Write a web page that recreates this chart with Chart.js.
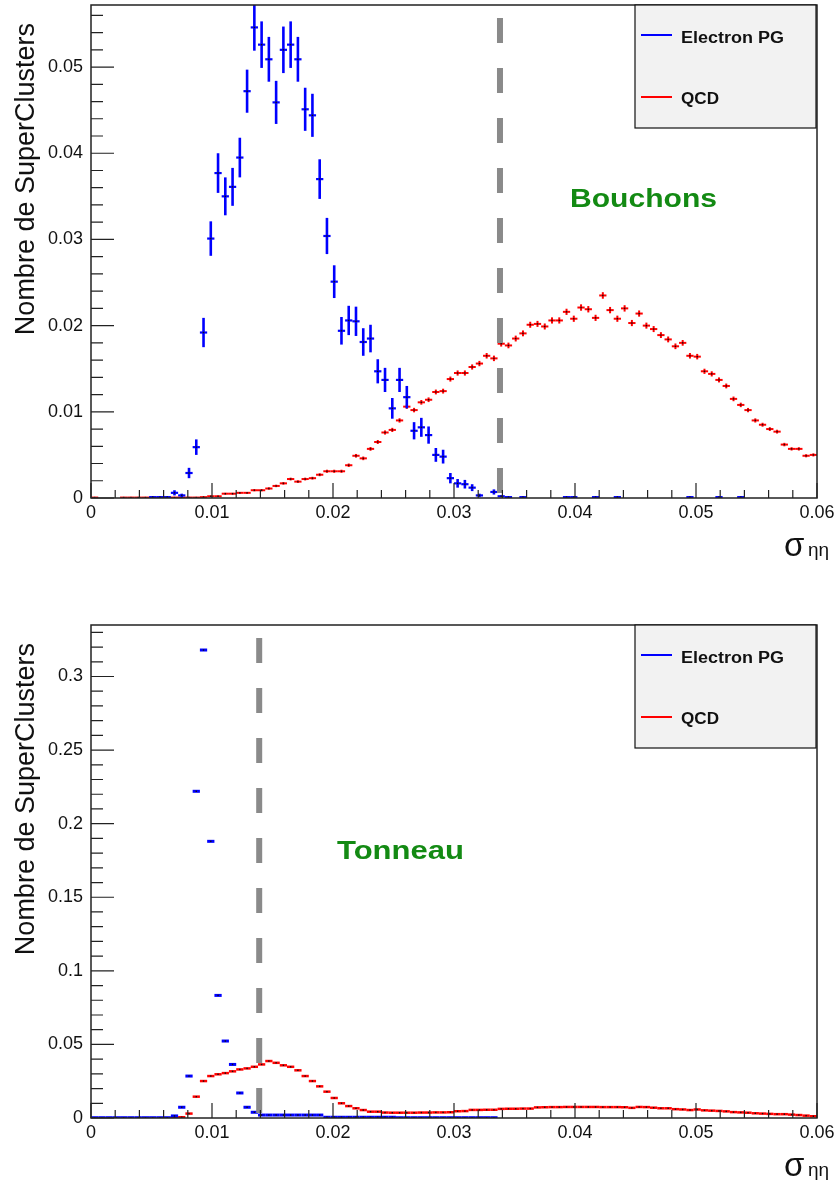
<!DOCTYPE html>
<html>
<head>
<meta charset="utf-8">
<script src="https://cdn.jsdelivr.net/npm/chart.js@4.4.1/dist/chart.umd.min.js"></script>
<style>
  html, body { margin: 0; padding: 0; background: #fff; }
  .panel { width: 838px; height: 593px; }
</style>
</head>
<body>
<div class="panel"><canvas id="bouchons" width="838" height="593"></canvas></div>
<div class="panel"><canvas id="tonneau" width="838" height="593"></canvas></div>
<script>
// sigma_ietaieta histograms, 100 bins from 0 to 0.06
const BIN_WIDTH = 0.0006
const binCenters = Array.from({ length: 100 }, (_, i) => +(BIN_WIDTH * (i + 0.5)).toFixed(5))

const seriesLabels = ['Electron PG', 'QCD']
const panelLabels = ['Bouchons', 'Tonneau']
const cutValues = [0.0338, 0.0139]

const xTickValues = [0, 0.01, 0.02, 0.03, 0.04, 0.05, 0.06]
const yTicksBouchons = [0, 0.01, 0.02, 0.03, 0.04, 0.05]
const yTicksTonneau = [0, 0.05, 0.1, 0.15, 0.2, 0.25, 0.3]

// endcap (Bouchons)
const bouchonsElectron = [
  null, null, null, null, null, null, null, null, 0.0001, 0.0001,
  0.0001, 0.0006, 0.0003, 0.0029, 0.0059, 0.0192, 0.0301, 0.0377, 0.0350, 0.0361,
  0.0395, 0.0472, 0.0546, 0.0526, 0.0509, 0.0459, 0.0520, 0.0526, 0.0509, 0.0451,
  0.0444, 0.0370, 0.0304, 0.0251, 0.0194, 0.0206, 0.0205, 0.0181, 0.0185, 0.0147,
  0.0137, 0.0104, 0.0137, 0.0117, 0.0078, 0.0082, 0.0073, 0.0050, 0.0048, 0.0023,
  0.0017, 0.0016, 0.0012, 0.0003, null, 0.0007, 0.0002, 0.0001, null, 0.0001,
  null, null, null, null, null, 0.0001, 0.0001, null, null, 0.0001,
  null, null, 0.0001, null, null, null, null, null, null, null,
  null, null, 0.0001, null, null, null, 0.0001, null, null, 0.0001,
  null, null, null, null, null, null, null, null, null, null
]
const bouchonsElectronErr = [
  0, 0, 0, 0, 0, 0, 0, 0, 0.0001, 0.0001,
  0.0001, 0.0003, 0.0002, 0.0006, 0.0009, 0.0017, 0.0020, 0.0023, 0.0022, 0.0022,
  0.0023, 0.0025, 0.0027, 0.0027, 0.0026, 0.0025, 0.0027, 0.0027, 0.0026, 0.0025,
  0.0025, 0.0023, 0.0021, 0.0019, 0.0016, 0.0017, 0.0017, 0.0016, 0.0016, 0.0014,
  0.0014, 0.0012, 0.0014, 0.0013, 0.0010, 0.0011, 0.0010, 0.0008, 0.0008, 0.0006,
  0.0005, 0.0005, 0.0004, 0.0002, 0, 0.0003, 0.0001, 0.0001, 0, 0.0001,
  0, 0, 0, 0, 0, 0.0001, 0.0001, 0, 0, 0.0001,
  0, 0, 0.0001, 0, 0, 0, 0, 0, 0, 0,
  0, 0, 0.0001, 0, 0, 0, 0.0001, 0, 0, 0.0001,
  0, 0, 0, 0, 0, 0, 0, 0, 0, 0
]
const bouchonsQcd = [
  0.00005, null, null, null, 0.00005, 0.00005, 0.00005, 0.00005, 0.00005, 0.00005,
  0.00005, 0.00005, 0.00005, 0.00005, 0.00005, 0.0001, 0.0002, 0.0002, 0.0005, 0.0005,
  0.0006, 0.0006, 0.0009, 0.0009, 0.0011, 0.0014, 0.0017, 0.0022, 0.0019, 0.0022,
  0.0023, 0.0027, 0.0031, 0.0031, 0.0031, 0.0038, 0.0049, 0.0046, 0.0057, 0.0065,
  0.0076, 0.0079, 0.0090, 0.0106, 0.0102, 0.0111, 0.0114, 0.0123, 0.0124, 0.0138,
  0.0145, 0.0145, 0.0152, 0.0156, 0.0165, 0.0162, 0.0179, 0.0177, 0.0185, 0.0191,
  0.0201, 0.0202, 0.0199, 0.0206, 0.0206, 0.0216, 0.0208, 0.0221, 0.0219, 0.0209,
  0.0235, 0.0218, 0.0208, 0.0220, 0.0203, 0.0214, 0.0200, 0.0196, 0.0189, 0.0184,
  0.0176, 0.0180, 0.0165, 0.0164, 0.0147, 0.0144, 0.0137, 0.0130, 0.0115, 0.0108,
  0.0102, 0.0090, 0.0085, 0.0080, 0.0077, 0.0062, 0.0057, 0.0057, 0.0049, 0.0050
]
const bouchonsQcdErr = [
  0, 0, 0, 0, 0, 0, 0, 0, 0, 0,
  0, 0, 0, 0, 0, 0.00006, 0.00006, 0.00006, 0.0001, 0.0001,
  0.0001, 0.0001, 0.00012, 0.00012, 0.00013, 0.00014, 0.00015, 0.00016, 0.00015, 0.00016,
  0.00016, 0.00017, 0.00018, 0.00018, 0.00018, 0.0002, 0.00021, 0.00021, 0.00022, 0.00023,
  0.00024, 0.00024, 0.00025, 0.00026, 0.00026, 0.00027, 0.00027, 0.00028, 0.00028, 0.00029,
  0.0003, 0.0003, 0.0003, 0.00031, 0.00032, 0.00032, 0.00033, 0.00033, 0.00034, 0.00034,
  0.00035, 0.00035, 0.00035, 0.00036, 0.00036, 0.00036, 0.00036, 0.00037, 0.00037, 0.00036,
  0.00038, 0.00037, 0.00036, 0.00037, 0.00036, 0.00036, 0.00035, 0.00035, 0.00034, 0.00034,
  0.00033, 0.00033, 0.00032, 0.00032, 0.0003, 0.0003, 0.00029, 0.00028, 0.00027, 0.00026,
  0.00025, 0.00024, 0.00023, 0.00022, 0.00022, 0.0002, 0.00019, 0.00019, 0.00018, 0.00018
]

// barrel (Tonneau)
const tonneauElectron = [
  0.0002, 0.0002, 0.0002, 0.0002, 0.0002, 0.0002, 0.0002, 0.0002, 0.0002, 0.0002,
  0.0002, 0.0014, 0.0073, 0.0285, 0.222, 0.318, 0.188, 0.0833, 0.0523, 0.0364,
  0.0170, 0.0073, 0.0039, 0.0020, 0.0020, 0.0020, 0.0020, 0.0020, 0.0020, 0.0020,
  0.0020, 0.0020, 0.0005, 0.0005, 0.0005, 0.0005, 0.0005, 0.0005, 0.0005, 0.0005,
  0.0005, 0.0005, 0.0002, 0.0002, 0.0002, 0.0002, 0.0002, 0.0002, 0.0002, 0.0002,
  0.0002, 0.0002, 0.0002, 0.0002, 0.0002, 0.0002, null, null, null, null,
  null, null, null, null, null, null, null, null, null, null,
  null, null, null, null, null, null, null, null, null, null,
  null, null, null, null, null, null, null, null, null, null,
  null, null, null, null, null, null, null, null, null, null
]
const tonneauQcd = [
  null, null, null, null, null, null, null, null, null, null,
  null, 0.0005, 0.0005, 0.0030, 0.0145, 0.0251, 0.0285, 0.0297, 0.0305, 0.0317,
  0.0330, 0.0337, 0.0348, 0.0364, 0.0387, 0.0375, 0.0358, 0.0348, 0.0324, 0.0285,
  0.0251, 0.0215, 0.0179, 0.0136, 0.0100, 0.0081, 0.0066, 0.0054, 0.0043, 0.0043,
  0.0037, 0.0036, 0.0036, 0.0036, 0.0036, 0.0037, 0.0037, 0.0038, 0.0038, 0.0039,
  0.0046, 0.0047, 0.0055, 0.0055, 0.0056, 0.0056, 0.0062, 0.0063, 0.0063, 0.0064,
  0.0064, 0.0072, 0.0073, 0.0074, 0.0074, 0.0075, 0.0075, 0.0075, 0.0075, 0.0075,
  0.0074, 0.0074, 0.0074, 0.0073, 0.0069, 0.0075, 0.0074, 0.0070, 0.0066, 0.0066,
  0.0060, 0.0058, 0.0054, 0.0058, 0.0052, 0.0050, 0.0048, 0.0045, 0.0040, 0.0038,
  0.0036, 0.0032, 0.0030, 0.0028, 0.0026, 0.0026, 0.0023, 0.0020, 0.0016, 0.0012
]

const FONT = "'Liberation Sans', Arial, Helvetica, sans-serif"
const BLUE = '#0000ff'
const RED = '#ff0000'

function toPoints(values) {
  return values.map((v, i) => ({ x: binCenters[i], y: v }))
}

// draws each bin as a horizontal segment of bin width plus a vertical error bar
const histMarks = {
  id: 'histMarks',
  afterDatasetsDraw(chart) {
    const { ctx, chartArea: a, scales: { x, y } } = chart
    ctx.save()
    ctx.beginPath()
    ctx.rect(a.left, a.top, a.right - a.left, a.bottom - a.top)
    ctx.clip()
    chart.data.datasets.forEach((ds, di) => {
      const meta = chart.getDatasetMeta(di)
      meta.data.forEach((pt, i) => {
        const d = ds.data[i]
        if (d.y == null) return
        const xl = x.getPixelForValue(d.x - BIN_WIDTH / 2)
        const xr = x.getPixelForValue(d.x + BIN_WIDTH / 2)
        ctx.strokeStyle = ds.borderColor
        ctx.lineWidth = ds.segWidth
        ctx.beginPath()
        ctx.moveTo(xl, pt.y)
        ctx.lineTo(xr, pt.y)
        ctx.stroke()
        const e = ds.errors ? ds.errors[i] : 0
        if (e) {
          ctx.lineWidth = ds.errWidth
          ctx.beginPath()
          ctx.moveTo(pt.x, y.getPixelForValue(d.y - e))
          ctx.lineTo(pt.x, y.getPixelForValue(d.y + e))
          ctx.stroke()
        }
        ctx.fillStyle = '#111'
        ctx.fillRect(pt.x - 0.7, pt.y - 0.7, 1.4, 1.4)
      })
    })
    ctx.restore()
  }
}

function stretchText(ctx, text, x, y, font, color, width) {
  ctx.save()
  ctx.font = font
  ctx.fillStyle = color
  ctx.textBaseline = 'alphabetic'
  ctx.textAlign = 'left'
  const w = ctx.measureText(text).width
  ctx.translate(x, y)
  if (width) ctx.scale(width / w, 1)
  ctx.fillText(text, 0, 0)
  ctx.restore()
}

function decor(p) {
  return {
    id: 'decor',
    afterDraw(chart) {
      const { ctx, chartArea: a, scales: { x, y } } = chart
      ctx.save()

      // cut line
      const cx = x.getPixelForValue(p.cut)
      ctx.strokeStyle = '#8a8a8a'
      ctx.lineWidth = 6
      ctx.setLineDash([25, 25])
      ctx.beginPath()
      ctx.moveTo(cx, a.top + 13)
      ctx.lineTo(cx, a.bottom)
      ctx.stroke()
      ctx.setLineDash([])

      // frame
      ctx.strokeStyle = '#222'
      ctx.lineWidth = 1.5
      ctx.strokeRect(a.left, a.top, a.right - a.left, a.bottom - a.top)

      // ticks, pointing inwards
      ctx.lineWidth = 1.2
      ctx.beginPath()
      for (let k = 0; k <= 30; k++) {
        const px = x.getPixelForValue(k * 0.002)
        const len = k % 5 === 0 ? 15 : 8
        ctx.moveTo(px, a.bottom)
        ctx.lineTo(px, a.bottom - len)
      }
      for (let k = 0; k * p.yMinor <= y.max; k++) {
        const py = y.getPixelForValue(k * p.yMinor)
        const len = k % 5 === 0 ? 23 : 12
        ctx.moveTo(a.left, py)
        ctx.lineTo(a.left + len, py)
      }
      ctx.stroke()

      // legend box
      const lx = a.left + 544, ly = a.top
      ctx.fillStyle = '#f2f2f2'
      ctx.fillRect(lx, ly, 181, 123)
      ctx.strokeStyle = '#111'
      ctx.lineWidth = 1.2
      ctx.strokeRect(lx, ly, 181, 123)
      const rows = [
        { c: BLUE, text: seriesLabels[0], ly: 30, ty: 38, w: 103 },
        { c: RED, text: seriesLabels[1], ly: 92, ty: 99, w: 38 }
      ]
      rows.forEach(r => {
        ctx.strokeStyle = r.c
        ctx.lineWidth = 2
        ctx.beginPath()
        ctx.moveTo(lx + 6, ly + r.ly)
        ctx.lineTo(lx + 37, ly + r.ly)
        ctx.stroke()
        stretchText(ctx, r.text, lx + 46, ly + r.ty, 'bold 16px ' + FONT, '#111', r.w)
      })

      // region label
      stretchText(ctx, p.label, p.labelX, a.top + p.labelDy, 'bold 26px ' + FONT, '#138a13', p.labelW)

      // y title
      ctx.save()
      ctx.translate(34, a.top + 18)
      ctx.rotate(-Math.PI / 2)
      ctx.font = '27px ' + FONT
      ctx.fillStyle = '#111'
      ctx.textAlign = 'right'
      ctx.textBaseline = 'alphabetic'
      ctx.fillText('Nombre de SuperClusters', 0, 0)
      ctx.restore()

      // x title
      ctx.fillStyle = '#111'
      ctx.textAlign = 'left'
      ctx.textBaseline = 'alphabetic'
      ctx.font = '33px ' + FONT
      ctx.fillText('σ', 784, a.bottom + 58)
      ctx.font = '19px ' + FONT
      ctx.fillText('ηη', 808, a.bottom + 58)

      ctx.restore()
    }
  }
}

function makeChart(id, p) {
  const tickFont = { family: FONT, size: 18 }
  return new Chart(document.getElementById(id), {
    type: 'scatter',
    data: {
      datasets: [
        {
          label: seriesLabels[1],
          data: toPoints(p.qcd),
          errors: p.qcdErr,
          borderColor: RED,
          segWidth: p.qcdSeg,
          errWidth: 2,
          pointRadius: 0
        },
        {
          label: seriesLabels[0],
          data: toPoints(p.electron),
          errors: p.electronErr,
          borderColor: BLUE,
          segWidth: p.electronSeg,
          errWidth: 2.6,
          pointRadius: 0
        }
      ]
    },
    options: {
      responsive: false,
      animation: false,
      layout: { padding: { top: p.padTop, right: 21, left: 0, bottom: 0 } },
      plugins: { legend: { display: false }, tooltip: { enabled: false } },
      scales: {
        x: {
          type: 'linear',
          min: 0,
          max: 0.06,
          border: { display: false },
          grid: { display: false, drawTicks: false },
          afterBuildTicks: s => { s.ticks = xTickValues.map(v => ({ value: v })) },
          ticks: {
            autoSkip: false,
            maxRotation: 0,
            padding: 4,
            color: '#111',
            font: tickFont,
            callback: v => String(+v.toFixed(4))
          },
          afterFit: s => {
            s.height = p.xHeight
            s.paddingLeft = 0
            s.paddingRight = 0
          }
        },
        y: {
          type: 'linear',
          min: 0,
          max: p.yMax,
          border: { display: false },
          grid: { display: false, drawTicks: false },
          afterBuildTicks: s => { s.ticks = p.yTicks.map(v => ({ value: v })) },
          ticks: {
            autoSkip: false,
            padding: 8,
            color: '#111',
            font: tickFont,
            callback: v => String(+v.toFixed(4))
          },
          afterFit: s => {
            s.width = 91
            s.paddingTop = 0
            s.paddingBottom = 0
          }
        }
      }
    },
    plugins: [histMarks, decor(p)]
  })
}

makeChart('bouchons', {
  electron: bouchonsElectron,
  electronErr: bouchonsElectronErr,
  qcd: bouchonsQcd,
  qcdErr: bouchonsQcdErr,
  electronSeg: 2.2,
  qcdSeg: 2,
  yMax: 0.0572,
  yTicks: yTicksBouchons,
  yMinor: 0.002,
  padTop: 5,
  xHeight: 95,
  cut: cutValues[0],
  label: panelLabels[0],
  labelX: 570,
  labelDy: 202,
  labelW: 147
})

makeChart('tonneau', {
  electron: tonneauElectron,
  electronErr: null,
  qcd: tonneauQcd,
  qcdErr: null,
  electronSeg: 3,
  qcdSeg: 2.5,
  yMax: 0.335,
  yTicks: yTicksTonneau,
  yMinor: 0.01,
  padTop: 32,
  xHeight: 68,
  cut: cutValues[1],
  label: panelLabels[1],
  labelX: 337,
  labelDy: 234,
  labelW: 127
})
</script>
</body>
</html>
